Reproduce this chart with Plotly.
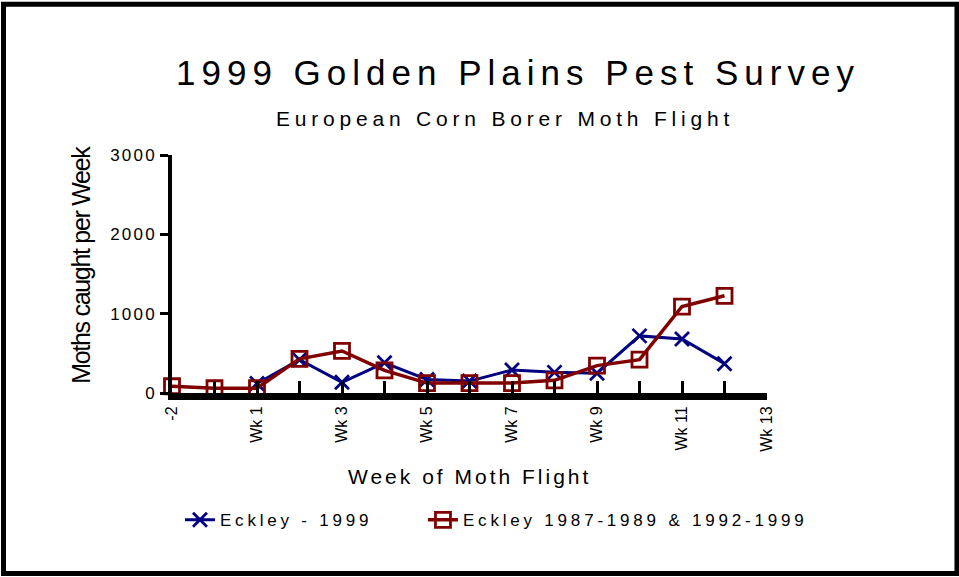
import plotly.graph_objects as go

# ---- data ----
weeks = ["-2", "-1", "Wk 1", "Wk 2", "Wk 3", "Wk 4", "Wk 5", "Wk 6", "Wk 7",
         "Wk 8", "Wk 9", "Wk 10", "Wk 11", "Wk 12", "Wk 13"]
tick_labels = ["-2", "", "Wk 1", "", "Wk 3", "", "Wk 5", "", "Wk 7",
               "", "Wk 9", "", "Wk 11", "", "Wk 13"]
y_ticks = [0, 1000, 2000, 3000]

eckley_1999 = [None, None, 120, 420, 135, 380, 170, 150, 290, 260, 250, 720, 680, 370]
eckley_hist = [85, 60, 60, 430, 530, 285, 125, 125, 125, 160, 345, 420, 1090, 1225]

series_names = ["Eckley - 1999", "Eckley 1987-1989 & 1992-1999"]

BLUE = "#000080"
RED = "#800000"
FONT = "Liberation Sans, Arial, Helvetica, sans-serif"
NARROW = "Liberation Sans Narrow, Arial Narrow, Liberation Sans, Arial, sans-serif"


def spaced(text, px):
    return f"<span style='letter-spacing:{px}px'>{text}</span>"


fig = go.Figure()
fig.add_trace(go.Scatter(
    x=weeks[:len(eckley_1999)], y=eckley_1999, mode="lines+markers",
    name=spaced(series_names[0], 3.8), legend="legend",
    line=dict(color=BLUE, width=3),
    marker=dict(symbol="x-thin-open", size=14, color=BLUE, line=dict(color=BLUE, width=2.8)),
    cliponaxis=False,
))
fig.add_trace(go.Scatter(
    x=weeks[:len(eckley_hist)], y=eckley_hist, mode="lines+markers",
    name=spaced(series_names[1], 3.8), legend="legend2",
    line=dict(color=RED, width=3.5),
    marker=dict(symbol="square-open", size=15, color=RED, line=dict(color=RED, width=2.8)),
    cliponaxis=False,
))

legend_common = dict(orientation="h", xanchor="left", y=-0.5346, yanchor="middle",
                     xref="paper", yref="paper",
                     font=dict(size=17, family=FONT, color="black"),
                     bgcolor="rgba(0,0,0,0)")

fig.update_layout(
    width=959, height=577,
    margin=dict(l=172, r=192, t=155, b=183.5),
    paper_bgcolor="white", plot_bgcolor="white",
    font=dict(family=FONT, color="black"),
    showlegend=True,
    legend=dict(x=0.0134, **legend_common),
    legend2=dict(x=0.4218, **legend_common),
    xaxis=dict(
        type="category", categoryorder="array", categoryarray=weeks,
        range=[0, 14], tickmode="array", tickvals=weeks, ticktext=tick_labels,
        showline=True, linecolor="black", linewidth=7,
        ticks="inside", ticklen=12, tickwidth=3, tickcolor="black",
        tickangle=-90, tickfont=dict(size=16, family=NARROW, color="black"),
        showgrid=False, zeroline=False,
    ),
    yaxis=dict(
        range=[0, 3000], tickmode="array", tickvals=y_ticks,
        ticktext=[spaced(str(v), 2.2) for v in y_ticks],
        showline=True, linecolor="black", linewidth=3.5,
        ticks="outside", ticklen=8, tickwidth=3, tickcolor="black",
        tickfont=dict(size=17, family=FONT, color="black"),
        showgrid=False, zeroline=False,
    ),
    annotations=[
        dict(text=spaced("1999 Golden Plains Pest Survey", 6), xref="paper", yref="paper",
             x=0.5815, y=1.348, xanchor="center", yanchor="middle", showarrow=False,
             font=dict(size=35, family=FONT, color="black")),
        dict(text=spaced("European Corn Borer Moth Flight", 4.8), xref="paper", yref="paper",
             x=0.5597, y=1.1551, xanchor="center", yanchor="middle", showarrow=False,
             font=dict(size=21, family=FONT, color="black")),
        dict(text=spaced("Week of Moth Flight", 3), xref="paper", yref="paper",
             x=0.5008, y=-0.3501, xanchor="center", yanchor="middle", showarrow=False,
             font=dict(size=21, family=FONT, color="black")),
        dict(text=spaced("Moths caught per Week", -1.3), xref="paper", yref="paper",
             x=-0.1529, y=0.5388, xanchor="center", yanchor="middle", showarrow=False,
             textangle=-90, font=dict(size=25, family=NARROW, color="black")),
    ],
    shapes=[
        # outer frame
        dict(type="rect", xref="paper", yref="paper",
             x0=-0.2832, x1=1.3193, y0=-0.7589, y1=1.6331,
             line=dict(color="black", width=5), fillcolor="rgba(0,0,0,0)", layer="above"),
    ],
)

fig.write_html("out.html", config={"displayModeBar": False},
               post_script="document.body.style.margin='0';")
